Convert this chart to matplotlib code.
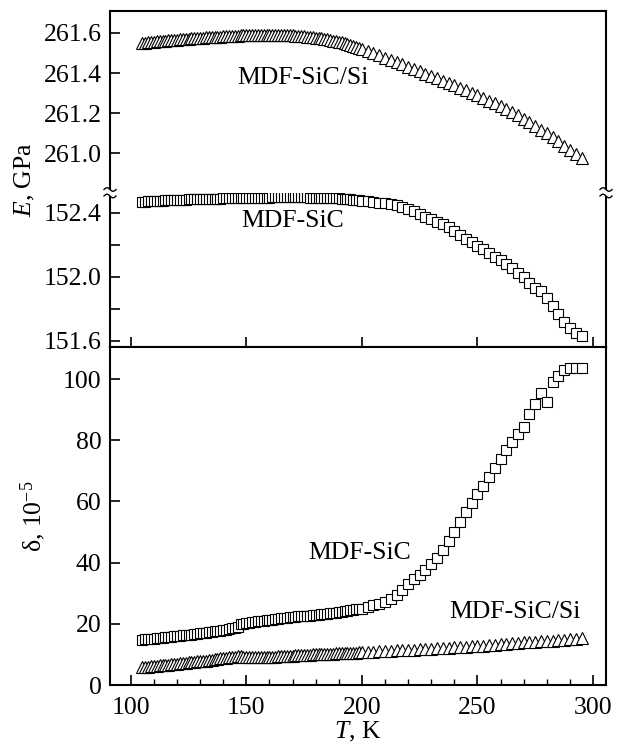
"""Young's modulus and damping of MDF-SiC and MDF-SiC/Si versus temperature."""

import matplotlib

matplotlib.use("Agg")

import matplotlib.pyplot as plt
import numpy as np
from matplotlib.lines import Line2D
from matplotlib.patches import Rectangle


T_K = [
    105, 106.25, 107.5, 108.75, 110, 111.25, 112.5, 113.75, 115, 116.25,
    117.5, 118.75, 120, 121.25, 122.5, 123.75, 125, 126.25, 127.5, 128.75,
    130, 131.25, 132.5, 133.75, 135, 136.25, 137.5, 138.75, 140, 141.25,
    142.5, 143.75, 145, 146.25, 147.5, 148.75, 150, 151.25, 152.5, 153.75,
    155, 156.25, 157.5, 158.75, 160, 161.25, 162.5, 163.75, 165, 166.25,
    167.5, 168.75, 170, 171.25, 172.5, 173.75, 175, 176.25, 177.5, 178.75,
    180, 181.25, 182.5, 183.75, 185, 186.25, 187.5, 188.75, 190, 191.25,
    192.5, 193.75, 195, 196.25, 197.5, 198.75, 200,
    202.5, 205, 207.5, 210, 212.5, 215, 217.5, 220, 222.5, 225, 227.5,
    230, 232.5, 235, 237.5, 240, 242.5, 245, 247.5, 250, 252.5, 255, 257.5,
    260, 262.5, 265, 267.5, 270, 272.5, 275, 277.5, 280, 282.5, 285, 287.5,
    290, 292.5, 295,
]

# Young's modulus, GPa
E_SIC_SI = [
    261.549, 261.551, 261.553, 261.555, 261.556, 261.558, 261.559, 261.561,
    261.562, 261.564, 261.565, 261.566, 261.567, 261.569, 261.570, 261.571,
    261.572, 261.573, 261.574, 261.575, 261.576, 261.577, 261.578, 261.579,
    261.580, 261.581, 261.582, 261.582, 261.583, 261.584, 261.585, 261.585,
    261.586, 261.587, 261.588, 261.588, 261.589, 261.590, 261.590, 261.591,
    261.591, 261.592, 261.592, 261.592, 261.592, 261.592, 261.592, 261.592,
    261.591, 261.591, 261.590, 261.589, 261.588, 261.587, 261.586, 261.585,
    261.584, 261.582, 261.581, 261.579, 261.577, 261.575, 261.573, 261.571,
    261.568, 261.565, 261.562, 261.559, 261.556, 261.553, 261.549, 261.545,
    261.541, 261.537, 261.532, 261.527, 261.522,
    261.512, 261.500, 261.489, 261.477, 261.466, 261.455, 261.443, 261.431,
    261.420, 261.408, 261.397, 261.385, 261.374, 261.362, 261.351, 261.339,
    261.327, 261.314, 261.301, 261.288, 261.275, 261.262, 261.249, 261.235,
    261.220, 261.205, 261.189, 261.172, 261.154, 261.135, 261.117, 261.098,
    261.078, 261.058, 261.037, 261.016, 260.995, 260.973,
]
E_SIC = [
    152.468, 152.470, 152.472, 152.474, 152.475, 152.476, 152.477, 152.478,
    152.479, 152.480, 152.481, 152.481, 152.482, 152.483, 152.484, 152.484,
    152.485, 152.485, 152.486, 152.486, 152.487, 152.487, 152.488, 152.488,
    152.489, 152.489, 152.490, 152.490, 152.491, 152.491, 152.492, 152.492,
    152.493, 152.493, 152.494, 152.494, 152.494, 152.495, 152.495, 152.495,
    152.495, 152.496, 152.496, 152.496, 152.496, 152.497, 152.497, 152.497,
    152.497, 152.497, 152.497, 152.497, 152.497, 152.497, 152.497, 152.497,
    152.497, 152.497, 152.496, 152.496, 152.496, 152.495, 152.495, 152.494,
    152.494, 152.493, 152.493, 152.492, 152.491, 152.490, 152.488, 152.487,
    152.485, 152.484, 152.482, 152.480, 152.478,
    152.474, 152.470, 152.465, 152.460, 152.455, 152.448, 152.438, 152.425,
    152.410, 152.395, 152.378, 152.362, 152.346, 152.330, 152.310, 152.290,
    152.265, 152.240, 152.218, 152.195, 152.172, 152.150, 152.128, 152.105,
    152.080, 152.055, 152.028, 152.000, 151.960, 151.930, 151.910, 151.870,
    151.820, 151.770, 151.720, 151.680, 151.650, 151.630,
]

# internal friction, 10^-5
D_SIC = [
    14.8, 14.9, 15.0, 15.1, 15.2, 15.3, 15.4, 15.5, 15.6, 15.7,
    15.8, 15.9, 16.0, 16.1, 16.2, 16.3, 16.4, 16.5, 16.6, 16.8,
    16.9, 17.0, 17.1, 17.3, 17.4, 17.5, 17.7, 17.8, 18.0, 18.1,
    18.3, 18.5, 18.7, 19.0, 19.9, 20.1, 20.3, 20.4, 20.5, 20.7,
    20.8, 20.9, 21.0, 21.2, 21.3, 21.4, 21.5, 21.7, 21.8, 21.9,
    22.0, 22.1, 22.2, 22.3, 22.4, 22.4, 22.5, 22.6, 22.7, 22.8,
    22.9, 23.0, 23.1, 23.2, 23.3, 23.4, 23.5, 23.7, 23.8, 24.0,
    24.1, 24.3, 24.4, 24.6, 24.7, 24.9, 25.0,
    25.4, 26.0, 26.5, 27.2, 28.2, 29.5, 31.2, 33.0, 34.5, 36.0, 37.7,
    39.5, 41.6, 44.0, 47.0, 50.0, 53.2, 56.5, 59.5, 62.5, 65.2, 68.0, 71.0,
    74.0, 76.8, 79.5, 82.0, 84.5, 88.5, 92.0, 95.5, 92.5, 99.0, 101.0, 103.0,
    103.5, 103.6, 103.6,
]
D_SIC_SI = [
    5.8, 5.9, 6.0, 6.1, 6.2, 6.3, 6.4, 6.5, 6.6, 6.7,
    6.8, 6.9, 7.0, 7.1, 7.2, 7.3, 7.4, 7.5, 7.6, 7.7,
    7.8, 7.9, 8.0, 8.2, 8.3, 8.4, 8.5, 8.7, 8.8, 8.9,
    9.0, 9.2, 9.3, 9.4, 9.4, 9.3, 9.2, 9.1, 9.1, 9.1,
    9.1, 9.1, 9.1, 9.2, 9.2, 9.3, 9.3, 9.4, 9.4, 9.5,
    9.5, 9.6, 9.6, 9.7, 9.7, 9.8, 9.8, 9.9, 9.9, 10.0,
    10.0, 10.0, 10.0, 10.1, 10.1, 10.2, 10.2, 10.3, 10.3, 10.4,
    10.4, 10.5, 10.5, 10.6, 10.6, 10.7, 10.7,
    10.8, 10.9, 11.0, 11.1, 11.2, 11.3, 11.4, 11.5, 11.6, 11.7, 11.8,
    11.9, 12.0, 12.1, 12.2, 12.3, 12.4, 12.5, 12.6, 12.8, 12.9, 13.1, 13.2,
    13.3, 13.5, 13.6, 13.7, 13.9, 14.0, 14.1, 14.3, 14.4, 14.5, 14.7, 14.8,
    15.0, 15.2, 15.4,
]

for series in (E_SIC_SI, E_SIC, D_SIC, D_SIC_SI):
    assert len(series) == len(T_K)

FS = 18.5
W, H = 619, 749

plt.rcParams["font.family"] = "serif"
plt.rcParams["font.serif"] = ["Liberation Serif", "DejaVu Serif"]
plt.rcParams["mathtext.fontset"] = "custom"
plt.rcParams["mathtext.rm"] = "Liberation Serif"
plt.rcParams["mathtext.it"] = "Liberation Serif:italic"
plt.rcParams["axes.linewidth"] = 1.5


def fy(px):
    return 1 - px / H


fig = plt.figure(figsize=(W / 100, H / 100), dpi=100)
left, right = 110 / W, 606 / W
ax_hi = fig.add_axes([left, fy(192.5), right - left, fy(11) - fy(192.5)])
ax_lo = fig.add_axes([left, fy(347), right - left, fy(192.5) - fy(347)])
ax_d = fig.add_axes([left, fy(685), right - left, fy(347) - fy(685)])

tri = dict(marker="^", ms=8.5, mfc="white", mec="black", mew=0.8, ls="none")
sq = dict(marker="s", ms=7.5, mfc="white", mec="black", mew=0.8, ls="none")

ax_hi.plot(T_K, E_SIC_SI, **tri)
ax_lo.plot(T_K, E_SIC, **sq)
ax_d.plot(T_K, D_SIC, **sq)
ax_d.plot(T_K, D_SIC_SI, **tri)

for ax in (ax_hi, ax_lo, ax_d):
    ax.set_xlim(91, 305.6)
    ax.tick_params(which="both", direction="in", labelsize=FS, right=False, top=False)
    ax.tick_params(which="major", length=7, width=1.2, pad=6)
    ax.tick_params(which="minor", length=4, width=1.0)
    ax.set_xticks([100, 150, 200, 250, 300])

ax_hi.set_ylim(260.8025, 261.71)
ax_hi.set_yticks([261.0, 261.2, 261.4, 261.6])
ax_hi.set_yticklabels(["261.0", "261.2", "261.4", "261.6"])
ax_hi.spines["bottom"].set_visible(False)
ax_hi.tick_params(axis="x", bottom=False, labelbottom=False)

ax_lo.set_ylim(151.5625, 152.528)
ax_lo.set_yticks([151.6, 151.8, 152.0, 152.2, 152.4])
ax_lo.set_yticklabels(["151.6", "", "152.0", "", "152.4"])
ax_lo.spines["top"].set_visible(False)
ax_lo.tick_params(axis="x", labelbottom=False)

ax_d.set_ylim(0, 110.5)
ax_d.set_yticks([0, 20, 40, 60, 80, 100])
ax_d.set_xticks(np.arange(100, 301, 10), minor=True)
ax_d.tick_params(axis="x", pad=9)
ax_d.set_xlabel("$T$, K", fontsize=FS, labelpad=0)

ax_hi.text(145.9, 261.375, "MDF-SiC/Si", fontsize=FS, va="center")
ax_lo.text(147.6, 152.35, "MDF-SiC", fontsize=FS, va="center")
ax_d.text(176.6, 43, "MDF-SiC", fontsize=FS, va="center")
ax_d.text(238, 23.9, "MDF-SiC/Si", fontsize=FS, va="center")

fig.text(25 / W, fy(180), "$E$, GPa", fontsize=FS, rotation=90, ha="center", va="center")
fig.text(33 / W, fy(516), "δ, 10$^{−5}$", fontsize=FS, rotation=90, ha="center", va="center")

# axis-break marks on both spines
for xs in (110, 606):
    fig.patches.append(Rectangle(((xs - 3) / W, fy(196)), 6 / W, 6.5 / H,
                                 transform=fig.transFigure, fc="white", ec="none", zorder=5))
    for yb in (189.5, 196):
        u = np.linspace(-1, 1, 20)
        fig.lines.append(Line2D((xs + 6 * u) / W, fy(yb + 1.8 * np.sin(np.pi * u)),
                                transform=fig.transFigure, color="black", lw=1.0, zorder=6))

fig.savefig("out.png", dpi=100, facecolor="white")
